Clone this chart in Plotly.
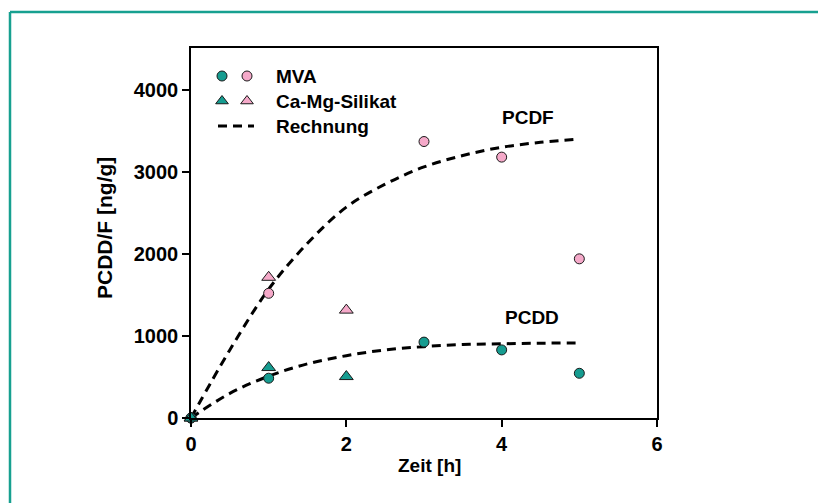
import plotly.graph_objects as go

# ---- data ----
t_mva = [0, 1, 3, 4, 5]
pcdf_mva = [0, 1520, 3370, 3180, 1940]
pcdd_mva = [0, 485, 925, 830, 545]

t_camg = [0, 1, 2]
pcdf_camg = [0, 1715, 1315]
pcdd_camg = [0, 615, 505]

t_calc = [0, 0.5, 1, 1.5, 2, 2.5, 3, 3.5, 4, 4.5, 5]
pcdf_calc = [0, 830, 1570, 2130, 2570, 2850, 3060, 3200, 3300, 3360, 3400]
pcdd_calc = [0, 300, 510, 660, 760, 830, 870, 895, 905, 912, 915]

x_ticks = [0, 2, 4, 6]
y_ticks = [0, 1000, 2000, 3000, 4000]

TEAL = "#169c90"
PINK = "#f5a9c9"
EDGE = "#1a1a1a"
FONT = "Liberation Sans, Arial, sans-serif"

W, H = 818, 503
L, R, T, B = 191, 657, 48, 418
pw, ph = R - L, B - T
px = lambda v: (v - L) / pw
py = lambda v: (B - v) / ph

fig = go.Figure()

dash = "9px,6px"
fig.add_trace(go.Scatter(x=t_calc, y=pcdf_calc, mode="lines", line=dict(color="black", width=3, dash=dash, shape="spline"), showlegend=False, hoverinfo="skip"))
fig.add_trace(go.Scatter(x=t_calc, y=pcdd_calc, mode="lines", line=dict(color="black", width=3, dash=dash, shape="spline"), showlegend=False, hoverinfo="skip"))

mk = lambda c, s, sz: dict(color=c, symbol=s, size=sz, line=dict(color=EDGE, width=1))
fig.add_trace(go.Scatter(x=t_mva, y=pcdf_mva, mode="markers", marker=mk(PINK, "circle", 10), cliponaxis=False, showlegend=False))
fig.add_trace(go.Scatter(x=t_camg, y=pcdf_camg, mode="markers", marker=mk(PINK, "triangle-up", 12), cliponaxis=False, showlegend=False))
fig.add_trace(go.Scatter(x=t_mva, y=pcdd_mva, mode="markers", marker=mk(TEAL, "circle", 10), cliponaxis=False, showlegend=False))
fig.add_trace(go.Scatter(x=t_camg, y=pcdd_camg, mode="markers", marker=mk(TEAL, "triangle-up", 12), cliponaxis=False, showlegend=False))

# ---- manual legend on an overlay axis measured in pixels ----
leg_rows = [76, 101, 126]
leg_names = ["MVA", "Ca-Mg-Silikat", "Rechnung"]
fig.add_trace(go.Scatter(x=[222, 247], y=[leg_rows[0]] * 2, mode="markers", xaxis="x2", yaxis="y2",
                         marker=dict(color=[TEAL, PINK], symbol="circle", size=10, line=dict(color=EDGE, width=1)),
                         showlegend=False, hoverinfo="skip", cliponaxis=False))
fig.add_trace(go.Scatter(x=[222, 247], y=[leg_rows[1]] * 2, mode="markers", xaxis="x2", yaxis="y2",
                         marker=dict(color=[TEAL, PINK], symbol="triangle-up", size=11, line=dict(color=EDGE, width=1)),
                         showlegend=False, hoverinfo="skip", cliponaxis=False))
fig.add_trace(go.Scatter(x=[218, 254], y=[leg_rows[2]] * 2, mode="lines", xaxis="x2", yaxis="y2",
                         line=dict(color="black", width=3, dash=dash),
                         showlegend=False, hoverinfo="skip", cliponaxis=False))

lab_font = dict(family=FONT, size=19, color="black", weight="bold")
annotations = []
for yy, name in zip(leg_rows, leg_names):
    annotations.append(dict(x=274, y=yy, xref="x2", yref="y2", text=name, showarrow=False,
                            xanchor="left", yanchor="middle", font=lab_font))
annotations.append(dict(x=4.34, y=3660, text="PCDF", showarrow=False, xanchor="center", yanchor="middle", font=lab_font))
annotations.append(dict(x=4.39, y=1230, text="PCDD", showarrow=False, xanchor="center", yanchor="middle", font=lab_font))
# axis titles (paper coordinates)
annotations.append(dict(x=px(429), y=py(465), xref="paper", yref="paper", text="Zeit [h]", showarrow=False,
                        xanchor="center", yanchor="middle", font=lab_font))
annotations.append(dict(x=px(104), y=py(228), xref="paper", yref="paper", text="PCDD/F [ng/g]", showarrow=False,
                        textangle=-90, xanchor="center", yanchor="middle",
                        font=dict(family=FONT, size=21, color="black", weight="bold")))

shapes = [
    dict(type="line", xref="paper", yref="paper", x0=px(10), x1=px(W + 5), y0=py(12), y1=py(12),
         line=dict(color="#17a090", width=2.5)),
    dict(type="line", xref="paper", yref="paper", x0=px(10), x1=px(10), y0=py(12), y1=py(H + 5),
         line=dict(color="#17a090", width=2.5)),
]

axis_font = dict(family=FONT, size=20, color="black", weight="bold")
fig.update_layout(
    width=W, height=H,
    margin=dict(l=L, r=W - R, t=T, b=H - B, autoexpand=False),
    paper_bgcolor="white", plot_bgcolor="white",
    font=dict(family=FONT, color="black"),
    xaxis=dict(range=[0, 6], tickvals=x_ticks, ticks="outside", ticklen=7, tickwidth=1.5, tickcolor="black",
               showline=True, linecolor="black", linewidth=1.5, mirror=True, showgrid=False, zeroline=False,
               tickfont=axis_font),
    yaxis=dict(range=[0, 4510], tickvals=y_ticks, ticks="outside", ticklen=7, tickwidth=1.5, tickcolor="black",
               showline=True, linecolor="black", linewidth=1.5, mirror=True, showgrid=False, zeroline=False,
               tickfont=axis_font),
    xaxis2=dict(range=[L, R], overlaying="x", visible=False, fixedrange=True),
    yaxis2=dict(range=[B, T], overlaying="y", visible=False, fixedrange=True),
    annotations=annotations,
    shapes=shapes,
)

fig.write_html("out.html")
